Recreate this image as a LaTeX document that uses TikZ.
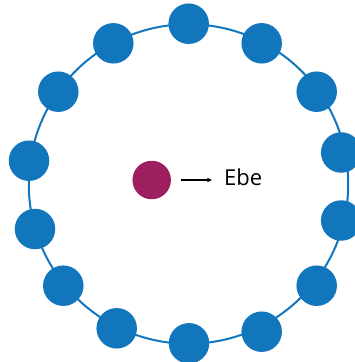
\documentclass[tikz,border=0pt]{standalone}
\usepackage{fontspec}
\setmainfont{Open Sans}
\usetikzlibrary{arrows.meta}
\definecolor{dotblue}{HTML}{1276BD}
\definecolor{dotmag}{HTML}{9E1F5E}
\tikzset{
  ring/.style={draw=dotblue, line width=2pt},
  bdot/.style={circle, fill=dotblue, minimum size=40.5pt, inner sep=0pt},
  mdot/.style={circle, fill=dotmag, minimum size=38.5pt, inner sep=0pt},
  lbl/.style={font=\fontsize{22}{26}\selectfont, inner sep=0pt, anchor=base west},
  arr/.style={-{Stealth[length=5pt,width=4.5pt]}, line width=1.2pt, black}
}
\begin{document}
\begin{tikzpicture}[x=1pt,y=-1pt]
\useasboundingbox (0,0) rectangle (355,362);
\node[circle, ring, minimum size=319.5pt, inner sep=0pt] (ring) at (188.5,184) {};
\node[bdot] (d1) at (188.7,23.7) {};
\node[bdot] (d2) at (261.7,43.3) {};
\node[bdot] (d3) at (316.7,91.7) {};
\node[bdot] (d4) at (341.2,152.5) {};
\node[bdot] (d5) at (341.2,220.5) {};
\node[bdot] (d6) at (316.7,285.7) {};
\node[bdot] (d7) at (261.7,331.7) {};
\node[bdot] (d8) at (189,343.3) {};
\node[bdot] (d9) at (116.7,328.3) {};
\node[bdot] (d10) at (63.3,285.7) {};
\node[bdot] (d11) at (35,229) {};
\node[bdot] (d12) at (29,160.7) {};
\node[bdot] (d13) at (58.3,91.7) {};
\node[bdot] (d14) at (113.3,43.3) {};
\node[mdot] (m) at (151.7,180) {};
\coordinate (a1) at (181,180);
\coordinate (a2) at (212,180);
\draw[arr] (a1) -- (a2);
\node[lbl] (ebe) at (224,185) {Ebe};
\end{tikzpicture}
\end{document}
